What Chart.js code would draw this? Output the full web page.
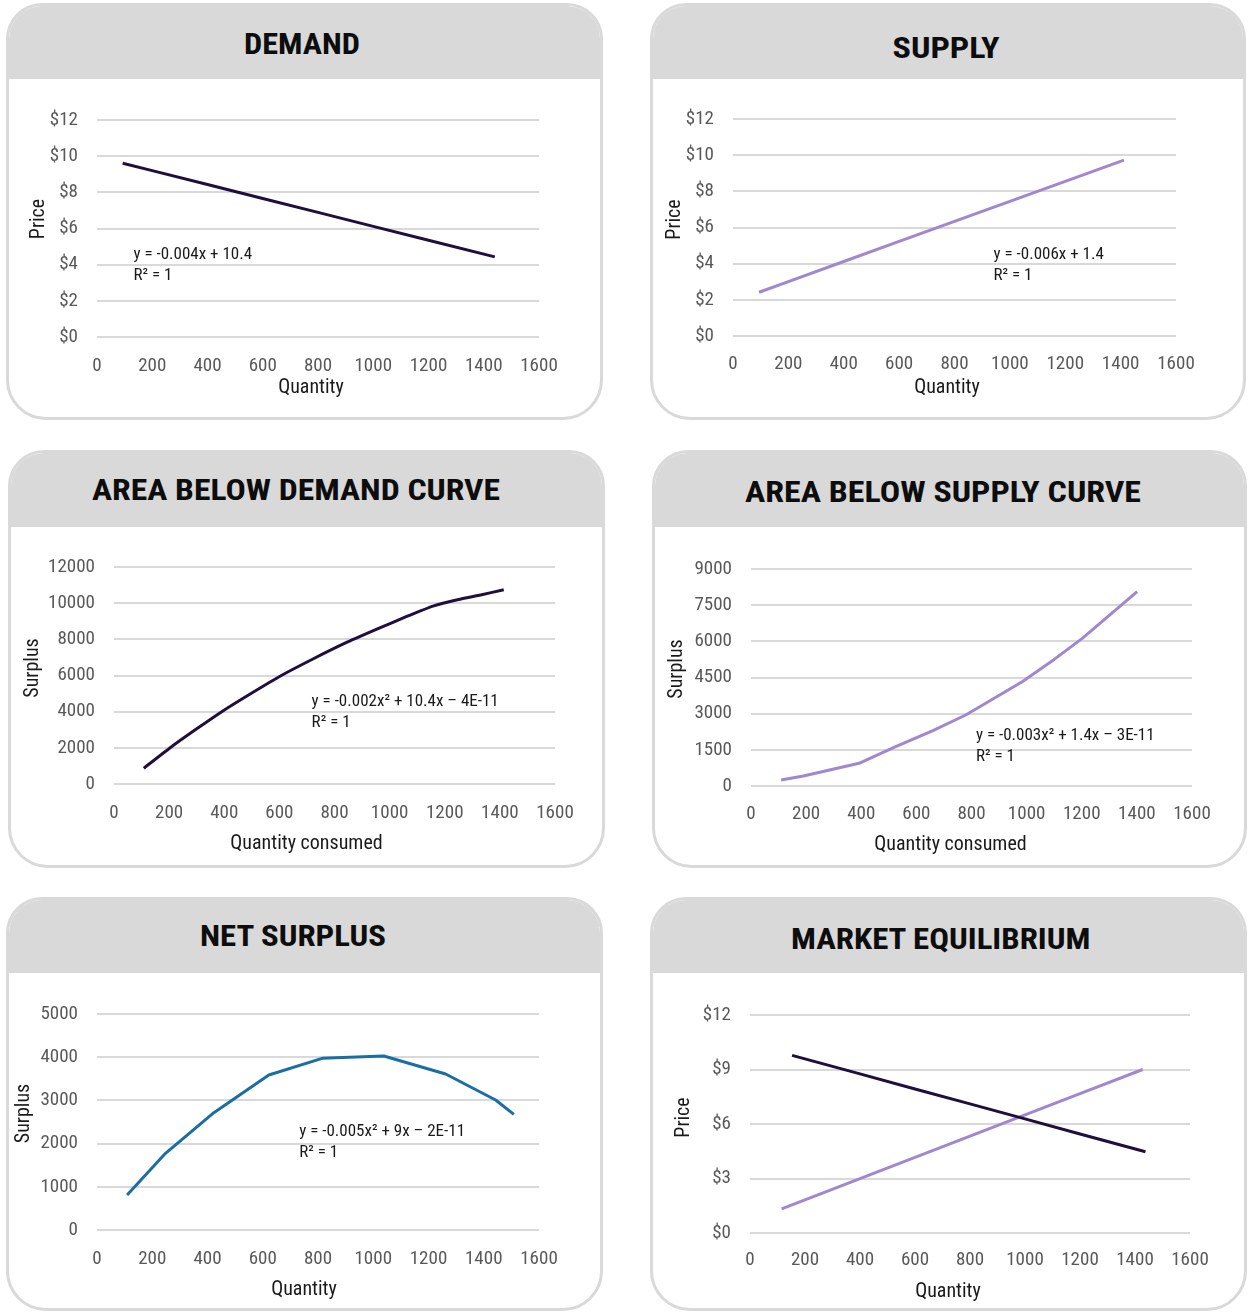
<!DOCTYPE html>
<html>
<head>
<meta charset="utf-8">
<script src="https://cdn.jsdelivr.net/npm/chart.js@4.4.1/dist/chart.umd.min.js"></script>
<style>
  html, body { margin: 0; padding: 0; background: #fff; }
  body { position: relative; width: 1249px; height: 1313px; overflow: hidden; }
  .card { position: absolute; box-sizing: border-box; border: 3px solid #d9d9d9;
          border-radius: 36px 36px 40px 40px; background: #fff; overflow: hidden; }
  .head { position: absolute; left: 0; top: 0; right: 0; background: #d9d9d9; }
  .title { position: absolute; white-space: nowrap; color: #0d0d0d;
           font-family: "Roboto Condensed", Roboto, sans-serif; font-stretch: 75%;
           font-weight: bold; font-size: 30px; line-height: 1;
           transform-origin: 50% 50%; }
  canvas { position: absolute; }
</style>
</head>
<body>
<script>
// ---- axis tick labels ----
const xTickLabels = ['0', '200', '400', '600', '800', '1000', '1200', '1400', '1600'];
const priceTicksBy2 = ['$0', '$2', '$4', '$6', '$8', '$10', '$12'];
const priceTicksBy3 = ['$0', '$3', '$6', '$9', '$12'];
const demandAreaTicks = ['0', '2000', '4000', '6000', '8000', '10000', '12000'];
const supplyAreaTicks = ['0', '1500', '3000', '4500', '6000', '7500', '9000'];
const netSurplusTicks = ['0', '1000', '2000', '3000', '4000', '5000'];

// ---- demand schedule ----
const demandQty   = [93, 200, 400, 600, 800, 1000, 1200, 1440];
const demandPrice = [9.61, 9.20, 8.43, 7.66, 6.89, 6.12, 5.35, 4.43];

// ---- supply schedule ----
const supplyQty   = [94, 200, 400, 600, 800, 1000, 1200, 1412];
const supplyPrice = [2.42, 3.01, 4.12, 5.23, 6.34, 7.44, 8.55, 9.73];

// ---- area below the demand curve ----
const demandAreaQty   = [108, 205, 300, 391, 500, 607, 720, 840, 960, 1060, 1160, 1250, 1330, 1414];
const demandAreaValue = [870, 2019, 3050, 4000, 5030, 6000, 6900, 7800, 8600, 9250, 9850, 10200, 10450, 10741];

// ---- area below the supply curve ----
const supplyAreaQty   = [109, 190, 392, 525, 660, 779, 984, 1100, 1202, 1401];
const supplyAreaValue = [249, 415, 940, 1631, 2300, 2945, 4327, 5250, 6124, 8060];

// ---- net surplus ----
const netQty     = [109, 248, 423, 622, 815, 1038, 1262, 1443, 1509];
const netSurplus = [810, 1775, 2716, 3588, 3974, 4028, 3611, 3009, 2677];

// ---- market equilibrium ----
const eqDemandQty   = [153, 400, 600, 800, 1000, 1200, 1438];
const eqDemandPrice = [9.78, 8.76, 7.93, 7.11, 6.28, 5.45, 4.47];
const eqSupplyQty   = [115, 400, 600, 800, 1000, 1200, 1428];
const eqSupplyPrice = [1.33, 2.99, 4.16, 5.33, 6.50, 7.67, 9.00];

// ---- colours ----
const DARK = '#1e0f3d';
const LAVENDER = '#9f88cf';
const BLUE = '#1b6ea3';

const FONT = '"Roboto Condensed", Roboto, sans-serif';
Chart.defaults.font.family = FONT;

const TICK_SIZE = 19;
const TITLE_SIZE = 20;

const pairs = (xs, ys) => xs.map((x, i) => ({ x: x, y: ys[i] }));

// Trendline equation text, anchored in data space
const eqLabelPlugin = {
  id: 'eqLabel',
  afterDatasetsDraw(chart, args, opts) {
    if (!opts || !opts.lines) return;
    const { ctx, scales } = chart;
    const px = scales.x.getPixelForValue(opts.x);
    const py = scales.y.getPixelForValue(opts.y);
    ctx.save();
    ctx.font = '17px ' + FONT;
    ctx.fillStyle = '#1a1a1a';
    ctx.textAlign = 'left';
    ctx.textBaseline = 'middle';
    opts.lines.forEach((t, i) => ctx.fillText(t, px, py + i * 21));
    ctx.restore();
  }
};

// Axis titles, placed relative to the plot area
const axisTitlePlugin = {
  id: 'axisTitles',
  afterDraw(chart, args, o) {
    if (!o || !o.xText) return;
    const { ctx, chartArea } = chart;
    ctx.save();
    ctx.font = TITLE_SIZE + 'px ' + FONT;
    ctx.fillStyle = '#1a1a1a';
    ctx.textAlign = 'center';
    ctx.textBaseline = 'middle';
    ctx.fillText(o.xText, (chartArea.left + chartArea.right) / 2 + o.xDx, chartArea.bottom + o.xDy);
    ctx.translate(o.yX, (chartArea.top + chartArea.bottom) / 2 + o.yDy);
    ctx.rotate(-Math.PI / 2);
    ctx.fillText(o.yText, 0, 0);
    ctx.restore();
  }
};
Chart.register(eqLabelPlugin, axisTitlePlugin);

function buildPanel(p) {
  const cw = p.card.r - p.card.l, ch = p.card.b - p.card.t;
  const card = document.createElement('div');
  card.className = 'card';
  Object.assign(card.style, { left: p.card.l + 'px', top: p.card.t + 'px', width: cw + 'px', height: ch + 'px' });
  const head = document.createElement('div');
  head.className = 'head';
  head.style.height = (p.hb - p.card.t - 3) + 'px';
  card.appendChild(head);
  const t = document.createElement('div');
  t.className = 'title';
  t.textContent = p.title;
  t.style.left = (cw / 2 + p.titleDx - 3) + 'px';
  t.style.top = (p.titleY - 3) + 'px';
  card.appendChild(t);
  document.body.appendChild(card);
  const tw = t.offsetWidth, th = t.offsetHeight;
  t.style.marginLeft = (-tw / 2) + 'px';
  t.style.marginTop = (-th / 2) + 'px';
  t.style.transform = 'scaleX(' + (p.titleW / tw) + ')';

  // chart canvas over the card body
  const W = cw, H = p.card.b - p.hb;
  const cv = document.createElement('canvas');
  cv.width = W; cv.height = H;
  Object.assign(cv.style, { left: p.card.l + 'px', top: p.hb + 'px', width: W + 'px', height: H + 'px' });
  document.body.appendChild(cv);

  const halfTick = TICK_SIZE * 0.6;
  const yw = p.plot.l - p.card.l;
  const pt = p.plot.t - p.hb;
  const pr = p.card.r - p.plot.r;
  const xh = 40;
  const pb = p.card.b - p.plot.b - xh;
  const xPad = p.xTickY + 2 - p.plot.b - halfTick;

  new Chart(cv, {
    type: 'scatter',
    data: { datasets: p.datasets.map(d => ({
      data: d.data, borderColor: d.color, backgroundColor: d.color, borderWidth: 3,
      showLine: true, pointRadius: 0, pointHoverRadius: 0, tension: d.tension || 0,
      borderCapStyle: 'butt', borderJoinStyle: 'round'
    })) },
    options: {
      responsive: false, animation: false, events: [],
      layout: { padding: { left: 0, right: pr, top: pt, bottom: pb } },
      plugins: {
        legend: { display: false }, tooltip: { enabled: false },
        eqLabel: p.eq || {},
        axisTitles: {
          xText: p.xTitle, xDx: p.xTitleDx, xDy: p.xTitleY + 2 - p.plot.b,
          yText: p.yTitle, yX: p.yTitleX - p.card.l, yDy: p.yTitleDy
        }
      },
      scales: {
        x: {
          type: 'linear', min: 0, max: 1600,
          ticks: { stepSize: 200, padding: xPad, color: '#595959', font: { size: TICK_SIZE },
                   maxRotation: 0, autoSkip: false, callback: (v, i) => xTickLabels[i] },
          grid: { display: false, drawTicks: false }, border: { display: false },
          afterFit: s => { s.height = xh; }
        },
        y: {
          min: p.y.min, max: p.y.max,
          ticks: { stepSize: p.y.step, padding: 19, color: '#595959', font: { size: TICK_SIZE },
                   autoSkip: false, callback: (v, i) => p.y.labels[i] },
          grid: { color: '#d9d9d9', lineWidth: 2, drawTicks: false }, border: { display: false },
          afterFit: s => { s.width = yw; }
        }
      }
    }
  });
}

const panels = [
  { title: 'DEMAND', titleW: 116, titleDx: -2.5, titleY: 41,
    card: { l: 6, t: 3, r: 603, b: 420 }, hb: 79, plot: { l: 97, t: 120, r: 539, b: 337 },
    yTitleX: 39, yTitleDy: -9.5, xTickY: 364, xTitleY: 386, xTitleDx: -7,
    xTitle: 'Quantity', yTitle: 'Price',
    y: { min: 0, max: 12, step: 2, labels: priceTicksBy2 },
    datasets: [{ data: pairs(demandQty, demandPrice), color: DARK }],
    eq: { x: 132, y: 4.53, lines: ['y = -0.004x + 10.4', 'R\u00b2 = 1'] } },
  { title: 'SUPPLY', titleW: 107, titleDx: -2, titleY: 45,
    card: { l: 650, t: 3, r: 1246, b: 420 }, hb: 79, plot: { l: 733, t: 119, r: 1176, b: 336 },
    yTitleX: 675, yTitleDy: -8, xTickY: 362, xTitleY: 386, xTitleDx: -7.5,
    xTitle: 'Quantity', yTitle: 'Price',
    y: { min: 0, max: 12, step: 2, labels: priceTicksBy2 },
    datasets: [{ data: pairs(supplyQty, supplyPrice), color: LAVENDER }],
    eq: { x: 941, y: 4.48, lines: ['y = -0.006x + 1.4', 'R\u00b2 = 1'] } },
  { title: 'AREA BELOW DEMAND CURVE', titleW: 408, titleDx: -10.5, titleY: 40,
    card: { l: 8, t: 450, r: 605, b: 868 }, hb: 527, plot: { l: 114, t: 567, r: 555, b: 784 },
    yTitleX: 33, yTitleDy: -7.5, xTickY: 811, xTitleY: 842, xTitleDx: -28,
    xTitle: 'Quantity consumed', yTitle: 'Surplus',
    y: { min: 0, max: 12000, step: 2000, labels: demandAreaTicks },
    datasets: [{ data: pairs(demandAreaQty, demandAreaValue), color: DARK, tension: 0.15 }],
    eq: { x: 717, y: 4551, lines: ['y = -0.002x\u00b2 + 10.4x \u2013 4E-11', 'R\u00b2 = 1'] } },
  { title: 'AREA BELOW SUPPLY CURVE', titleW: 396, titleDx: -6.5, titleY: 42,
    card: { l: 652, t: 450, r: 1247, b: 868 }, hb: 527, plot: { l: 751, t: 569, r: 1192, b: 786 },
    yTitleX: 677, yTitleDy: -8.5, xTickY: 812, xTitleY: 843, xTitleDx: -21,
    xTitle: 'Quantity consumed', yTitle: 'Surplus',
    y: { min: 0, max: 9000, step: 1500, labels: supplyAreaTicks },
    datasets: [{ data: pairs(supplyAreaQty, supplyAreaValue), color: LAVENDER }],
    eq: { x: 816, y: 2074, lines: ['y = -0.003x\u00b2 + 1.4x \u2013 3E-11', 'R\u00b2 = 1'] } },
  { title: 'NET SURPLUS', titleW: 186, titleDx: -11.5, titleY: 39,
    card: { l: 6, t: 897, r: 603, b: 1311 }, hb: 973, plot: { l: 97, t: 1014, r: 539, b: 1230 },
    yTitleX: 24, yTitleDy: -8.5, xTickY: 1257, xTitleY: 1288, xTitleDx: -14,
    xTitle: 'Quantity', yTitle: 'Surplus',
    y: { min: 0, max: 5000, step: 1000, labels: netSurplusTicks },
    datasets: [{ data: pairs(netQty, netSurplus), color: BLUE }],
    eq: { x: 732, y: 2275, lines: ['y = -0.005x\u00b2 + 9x \u2013 2E-11', 'R\u00b2 = 1'] } },
  { title: 'MARKET EQUILIBRIUM', titleW: 299, titleDx: -8.5, titleY: 42,
    card: { l: 650, t: 897, r: 1247, b: 1311 }, hb: 973, plot: { l: 750, t: 1015, r: 1190, b: 1233 },
    yTitleX: 684, yTitleDy: -6.5, xTickY: 1258, xTitleY: 1290, xTitleDx: -22,
    xTitle: 'Quantity', yTitle: 'Price',
    y: { min: 0, max: 12, step: 3, labels: priceTicksBy3 },
    datasets: [
      { data: pairs(eqDemandQty, eqDemandPrice), color: DARK },
      { data: pairs(eqSupplyQty, eqSupplyPrice), color: LAVENDER }
    ] }
];

panels.forEach(buildPanel);
</script>
</body>
</html>
